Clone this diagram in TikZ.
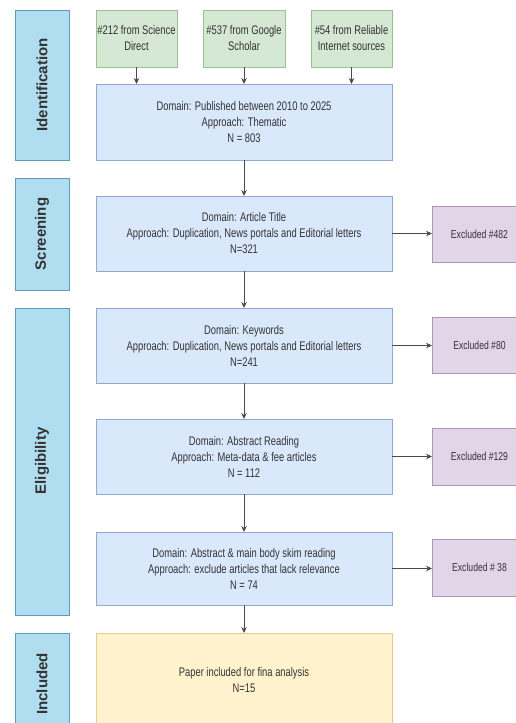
\documentclass[tikz,border=0pt]{standalone}
\usepackage{fontspec}
\setmainfont{Liberation Sans}
\newfontfamily\narrowfont[FakeStretch=0.75]{Liberation Sans}
\newfontfamily\sidefont{Liberation Sans}
\usetikzlibrary{arrows.meta}
\definecolor{sidefill}{HTML}{B1DDF0}
\definecolor{sidedraw}{HTML}{5A9CC0}
\definecolor{srcfill}{HTML}{D5E8D4}
\definecolor{srcdraw}{HTML}{9CC095}
\definecolor{mainfill}{HTML}{DAE8FC}
\definecolor{maindraw}{HTML}{8FA9CF}
\definecolor{exfill}{HTML}{E1D5E7}
\definecolor{exdraw}{HTML}{AE93BC}
\definecolor{finfill}{HTML}{FFF2CC}
\definecolor{findraw}{HTML}{E2CD8A}
\definecolor{txt}{HTML}{333333}
\definecolor{conn}{HTML}{4A4A4A}
\tikzset{
  box/.style={line width=0.9pt},
  sidebox/.style={box, fill=sidefill, draw=sidedraw},
  srcbox/.style={box, fill=srcfill, draw=srcdraw},
  mainbox/.style={box, fill=mainfill, draw=maindraw},
  exbox/.style={box, fill=exfill, draw=exdraw},
  finbox/.style={box, fill=finfill, draw=findraw},
  sidetext/.style={rotate=90, font={\sidefont\bfseries\fontsize{15}{17}\selectfont}, text=txt},
  txtnode/.style={align=center, text=txt, font={\narrowfont\fontsize{12.5}{16}\selectfont}},
  extext/.style={txtnode, font={\narrowfont\fontsize{11.5}{16}\selectfont}},
  conn/.style={draw=conn, line width=1pt, -{Stealth[length=6pt,width=5.5pt]}}
}
\begin{document}
\begin{tikzpicture}[x=1pt,y=-1pt]
\useasboundingbox (0,0) rectangle (516,723);
\clip (0,0) rectangle (516,723);
\fill[white] (0,0) rectangle (516,723);
% side labels
\draw[sidebox] (15,10) rectangle (69,160);
\node[sidetext] (sid) at (42,85) {Identification};
\draw[sidebox] (15,178) rectangle (69,290);
\node[sidetext] (sscr) at (42,234) {Screening};
\draw[sidebox] (15,308) rectangle (69,615);
\node[sidetext] (selig) at (42,461) {Eligibility};
\draw[sidebox] (15,633) rectangle (69,735);
\node[sidetext] (sinc) at (42,684) {Included};
% source boxes
\draw[srcbox] (96,10) rectangle (177,67);
\node[txtnode] (s1) at (136.5,38.5) {\#212 from Science\\Direct};
\coordinate (s1b) at (136.5,67);
\draw[srcbox] (203,10) rectangle (285,67);
\node[txtnode] (s2) at (244,38.5) {\#537 from Google\\Scholar};
\coordinate (s2b) at (244,67);
\draw[srcbox] (311,10) rectangle (392,67);
\node[txtnode] (s3) at (351.5,38.5) {\#54 from Reliable\\Internet sources};
\coordinate (s3b) at (351.5,67);
% main boxes
\draw[mainbox] (96,84) rectangle (392,160);
\node[txtnode] (m1) at (244,122) {Domain: Published between 2010 to 2025\\Approach: Thematic\\N = 803};
\draw[mainbox] (96,196) rectangle (392,271);
\node[txtnode] (m2) at (244,233.5) {Domain: Article Title\\Approach: Duplication, News portals and Editorial letters\\N=321};
\draw[mainbox] (96,308) rectangle (392,383);
\node[txtnode] (m3) at (244,345.5) {Domain: Keywords\\Approach: Duplication, News portals and Editorial letters\\N=241};
\draw[mainbox] (96,419) rectangle (392,494);
\node[txtnode] (m4) at (244,456.5) {Domain: Abstract Reading\\Approach: Meta-data \& fee articles\\N = 112};
\draw[mainbox] (96,532) rectangle (392,605);
\node[txtnode] (m5) at (244,568.5) {Domain: Abstract \& main body skim reading\\Approach: exclude articles that lack relevance\\N = 74};
\draw[finbox] (96,633) rectangle (392,735);
\node[txtnode] (fin) at (244,680.5) {Paper included for fina analysis\\N=15};
% coordinates of box edges
\coordinate (m1t1) at (136.5,84); \coordinate (m1t2) at (244,84); \coordinate (m1t3) at (351.5,84);
\coordinate (m1b) at (244,160); \coordinate (m2t) at (244,196);
\coordinate (m2b) at (244,271); \coordinate (m3t) at (244,308);
\coordinate (m3b) at (244,383); \coordinate (m4t) at (244,419);
\coordinate (m4b) at (244,494); \coordinate (m5t) at (244,532);
\coordinate (m5b) at (244,605); \coordinate (fint) at (244,633);
\coordinate (m2r) at (392,233.5); \coordinate (m3r) at (392,345.5);
\coordinate (m4r) at (392,456.5); \coordinate (m5r) at (392,568.5);
% excluded boxes
\draw[exbox] (432,206) rectangle (527,262);
\node[extext] (e1) at (479.5,234) {Excluded \#482};
\draw[exbox] (432,317) rectangle (527,373);
\node[extext] (e2) at (479.5,345) {Excluded \#80};
\draw[exbox] (432,428) rectangle (527,485);
\node[extext] (e3) at (479.5,456.5) {Excluded \#129};
\draw[exbox] (432,539) rectangle (527,596);
\node[extext] (e4) at (479.5,567.5) {Excluded \# 38};
\coordinate (e1l) at (432,233.5); \coordinate (e2l) at (432,345.5);
\coordinate (e3l) at (432,456.5); \coordinate (e4l) at (432,568.5);
% connectors
\draw[conn] (s1b) -- (m1t1);
\draw[conn] (s2b) -- (m1t2);
\draw[conn] (s3b) -- (m1t3);
\draw[conn] (m1b) -- (m2t);
\draw[conn] (m2b) -- (m3t);
\draw[conn] (m3b) -- (m4t);
\draw[conn] (m4b) -- (m5t);
\draw[conn] (m5b) -- (fint);
\draw[conn] (m2r) -- (e1l);
\draw[conn] (m3r) -- (e2l);
\draw[conn] (m4r) -- (e3l);
\draw[conn] (m5r) -- (e4l);
\end{tikzpicture}
\end{document}
